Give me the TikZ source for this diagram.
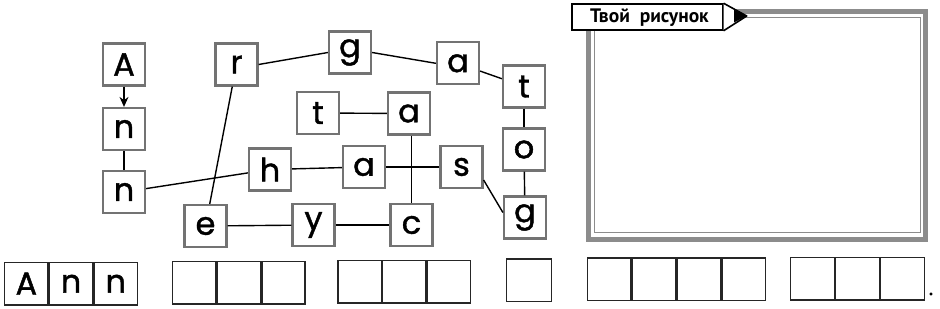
\documentclass[tikz,border=0pt]{standalone}
\usepackage{fontspec}
\setmainfont{Poppins}
\newfontfamily\letfont{Poppins}[FakeBold=1.3]
\newfontfamily\labfont{PT Sans}
\usetikzlibrary{arrows.meta}
\definecolor{boxgray}{gray}{0.45}
\definecolor{framegray}{gray}{0.55}
\begin{document}
\begin{tikzpicture}[x=1pt,y=-1pt,
  lbox/.style={draw=boxgray, line width=2.2pt, fill=white, minimum width=42pt, minimum height=42pt, inner sep=0pt, font=\letfont\fontsize{32}{32}\selectfont},
  cell/.style={draw=black!85, line width=1.4pt, minimum width=43.3pt, minimum height=42.5pt, inner sep=0pt, font=\letfont\fontsize{32}{32}\selectfont},
  link/.style={draw=black, line width=1.4pt},
  labelbox/.style={draw=black, line width=1.6pt, fill=white, minimum width=151pt, minimum height=26pt, inner sep=0pt}
]
\useasboundingbox (0,0) rectangle (940,308);
% letter boxes
\node[lbox] (A)  at (124,64.5) {A};
\node[lbox] (n1) at (124,129) {n};
\node[lbox] (n2) at (124,192) {n};
\node[lbox] (r)  at (236.5,64.5) {r};
\node[lbox] (g1) at (350,52.5) {g};
\node[lbox] (a1) at (458,63.3) {a};
\node[lbox] (t1) at (524,86.5) {t};
\node[lbox] (tm) at (318,113) {t};
\node[lbox] (au) at (409,113.5) {a};
\node[lbox] (o)  at (524,149.5) {o};
\node[lbox] (h)  at (270,169.5) {h};
\node[lbox] (am) at (364,167) {a};
\node[lbox] (s)  at (461.5,167) {s};
\node[lbox] (g2) at (525,217.5) {g};
\node[lbox] (e)  at (205.5,226) {e};
\node[lbox] (y)  at (313.5,225) {y};
\node[lbox] (c)  at (411.5,225) {c};
% connectors
\draw[link, -{Stealth[length=10pt,width=9pt]}] (A) -- (n1);
\draw[link] (n1) -- (n2);
\draw[link] (n2) -- (h);
\draw[link] (r) -- (e);
\draw[link] (r.east) -- (g1.west);
\draw[link] (g1.east) -- (a1.west);
\draw[link] (a1) -- (t1);
\draw[link] (t1) -- (o);
\draw[link] (o) -- (g2);
\draw[link] (tm) -- (au);
\draw[link] (h) -- (am);
\draw[link] (am) -- (s);
\draw[link] (au.south -| c) -- (c.north);
\draw[link] ([yshift=-13pt]s.east) -- ([yshift=5pt]g2.west);
\draw[link] (e) -- (y);
\draw[link] (y) -- (c);
% drawing frame
\draw[framegray, line width=5pt] (588.5,11.5) rectangle (925.5,239);
\draw[framegray, line width=1pt] (594,17) rectangle (920.7,232.7);
\node[labelbox] (lab) at (647.2,17) {};
\node[anchor=west, inner sep=0pt, font=\labfont\bfseries\fontsize{19.5}{19.5}\selectfont] (labtext) at (590,17.5) {Твой\ \ рисунок};
\draw[line width=1.6pt, fill=white, line join=round] (lab.north east) -- (746.7,16) -- (lab.south east);
\fill[black] (734,9.5) -- (746.7,16) -- (734,22.5) -- cycle;
% answer cells
\node[cell, anchor=north west] (p1) at (4,261.7) {A};
\node[cell, anchor=west] (p2) at (p1.east) {n};
\node[cell, anchor=west] (p3) at (p2.east) {n};
\node[cell, anchor=north west] (q1) at (171.7,260.7) {};
\node[cell, anchor=west] (q2) at (q1.east) {};
\node[cell, anchor=west] (q3) at (q2.east) {};
\node[cell, anchor=north west] (u1) at (337.3,259.7) {};
\node[cell, anchor=west] (u2) at (u1.east) {};
\node[cell, anchor=west] (u3) at (u2.east) {};
\node[cell, anchor=north west, minimum width=44.7pt] (v1) at (506,258.3) {};
\node[cell, anchor=north west, minimum width=43.5pt] (w1) at (586.7,257.3) {};
\node[cell, anchor=west, minimum width=43.5pt] (w2) at (w1.east) {};
\node[cell, anchor=west, minimum width=43.5pt] (w3) at (w2.east) {};
\node[cell, anchor=west, minimum width=43.5pt] (w4) at (w3.east) {};
\node[cell, anchor=north west, minimum width=43.6pt] (z1) at (790,256.7) {};
\node[cell, anchor=west, minimum width=43.6pt] (z2) at (z1.east) {};
\node[cell, anchor=west, minimum width=43.6pt] (z3) at (z2.east) {};
\node[inner sep=0pt, font=\letfont\fontsize{20}{20}\selectfont] (dot) at (931,294) {.};
\end{tikzpicture}
\end{document}
